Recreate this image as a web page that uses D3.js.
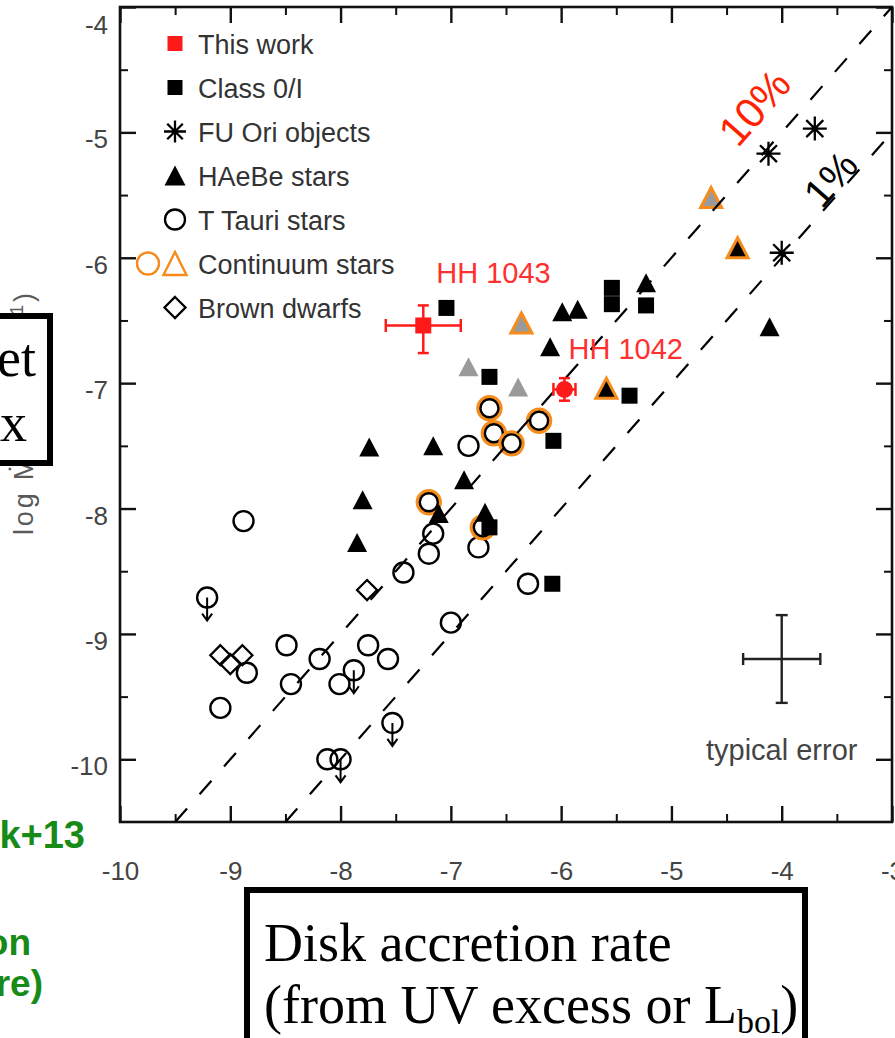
<!DOCTYPE html>
<html><head><meta charset="utf-8">
<script src="https://cdn.jsdelivr.net/npm/d3@7"></script>
<style>
html,body{margin:0;padding:0;background:#fff;overflow:hidden}
svg{display:block}
</style></head><body>
<svg id="chart" width="895" height="1038"></svg>
<script>
// ---------------- data ----------------
const xTicks = [-10, -9, -8, -7, -6, -5, -4, -3];
const xMinor = [-9.5, -8.5, -7.5, -6.5, -5.5, -4.5, -3.5];
const yTicks = [-10, -9, -8, -7, -6, -5, -4];
const yMinor = [-9.5, -8.5, -7.5, -6.5, -5.5, -4.5];

const legendLabels = ["This work", "Class 0/I", "FU Ori objects", "HAeBe stars",
  "T Tauri stars", "Continuum stars", "Brown dwarfs"];

// efficiency lines: log Mjet = log Macc + log(ratio)
const ratioLabels = ["10%", "1%"];
const ratioValues = [0.1, 0.01];

// This work (HH 1043, HH 1042)
const workNames = ["HH 1043", "HH 1042"];
const workAcc = [-7.25, -5.97];
const workJet = [-6.54, -7.05];
const workAccErr = [0.34, 0.10];
const workJetErrUp = [0.16, 0.09];
const workJetErrDown = [0.22, 0.09];

// Class 0/I sources
const classAcc = [-7.04, -6.65, -5.54, -5.54, -5.23, -5.38, -6.07, -6.65, -6.08];
const classJet = [-6.40, -6.95, -6.24, -6.37, -6.38, -7.10, -7.46, -8.15, -8.60];

// FU Ori objects
const fuoriAcc = [-4.12, -3.70, -4.00];
const fuoriJet = [-5.17, -4.97, -5.96];

// HAeBe stars (black)
const haebeAcc = [-7.74, -7.16, -7.80, -7.85, -7.11, -6.88, -6.69, -6.10, -5.99, -5.85, -5.23, -4.11];
const haebeJet = [-7.51, -7.50, -7.93, -8.27, -8.04, -7.77, -8.03, -6.71, -6.43, -6.41, -6.20, -6.55];
// HAeBe stars (grey)
const haebeGreyAcc = [-6.84, -6.39];
const haebeGreyJet = [-6.87, -7.03];

// T Tauri stars
const ttauAcc = [-9.21, -8.85, -9.09, -8.49, -8.45, -8.19, -8.01, -7.88, -7.75, -7.57, -7.53,
  -8.12, -8.00, -7.43, -7.20, -7.16, -7.00, -8.88, -6.84, -6.75, -6.30];
const ttauJet = [-8.71, -9.31, -9.59, -9.09, -9.40, -9.20, -9.40, -9.29, -9.09, -9.20, -9.71,
  -10.00, -10.00, -8.51, -8.36, -8.20, -8.91, -8.10, -7.50, -8.31, -8.60];
const ttauUpperLimit = [true, false, false, false, false, false, false, true, false, false, true,
  false, true, false, false, false, false, false, false, false, false];

// Continuum stars
const contCircAcc = [-7.20, -6.65, -6.61, -6.45, -6.20, -6.71];
const contCircJet = [-7.95, -7.20, -7.40, -7.48, -7.30, -8.15];
const contTriAcc = [-6.36, -4.64, -4.40, -5.59];
const contTriJet = [-6.52, -5.52, -5.92, -7.04];
const contTriFill = ["grey", "grey", "black", "black"];

// Brown dwarfs
const bdAcc = [-9.09, -9.00, -8.89, -7.76];
const bdJet = [-9.17, -9.24, -9.17, -8.65];

// typical error bar
const typAcc = -4.0, typJet = -9.2, typAccErr = 0.35, typJetErr = 0.35;

// ---------------- drawing ----------------
const ORANGE = "#f58c1c", RED = "#ff1a1a", GREY = "#9a9a9a";
const SANS = "'Liberation Sans', Arial, Helvetica, sans-serif";
const SERIF = "'Liberation Serif', 'Times New Roman', serif";
const fmt = d => String(d);   // plain hyphen-minus labels

const svg = d3.select("#chart");
const x = d3.scaleLinear().domain([-10, -3]).range([120, 892]);
const y = d3.scaleLinear().domain([-10.5, -4]).range([822, 7]);
const X0 = x.range()[0], X1 = x.range()[1], Y0 = y.range()[1], Y1 = y.range()[0];

// y-axis title (partly covered by the box on the left)
const yTitle = svg.append("text")
  .attr("transform", "translate(33,535) rotate(-90)")
  .attr("font-family", SANS).attr("font-size", 27).attr("fill", "#5a5a5a")
  .attr("textLength", 242).attr("lengthAdjust", "spacing");
yTitle.append("tspan").text("log \u1E40");
yTitle.append("tspan").attr("font-size", 18).attr("dy", 6).text("jet");
yTitle.append("tspan").attr("dy", -6).text(" (M");
yTitle.append("tspan").attr("font-size", 18).attr("dy", 6).text("\u2299");
yTitle.append("tspan").attr("dy", -6).text(" yr");
yTitle.append("tspan").attr("font-size", 18).attr("dy", -10).text("-1");
yTitle.append("tspan").attr("dy", 10).text(")");

// axes with inward ticks on all four sides
function styleAxis(g, width) {
  g.select(".domain").remove();
  g.selectAll(".tick line").attr("stroke", "#111").attr("stroke-width", width);
}
const gAxes = svg.append("g");
gAxes.append("g").attr("transform", `translate(0,${Y1})`)
  .call(d3.axisBottom(x).tickValues(xMinor).tickSize(-8).tickFormat(""))
  .call(g => styleAxis(g, 2));
gAxes.append("g").attr("transform", `translate(0,${Y0})`)
  .call(d3.axisTop(x).tickValues(xMinor).tickSize(-8).tickFormat(""))
  .call(g => styleAxis(g, 2));
const xBottom = gAxes.append("g").attr("transform", `translate(0,${Y1})`)
  .call(d3.axisBottom(x).tickValues(xTicks).tickSize(-16).tickPadding(0).tickFormat(fmt))
  .call(g => styleAxis(g, 2.4));
xBottom.selectAll("text").attr("y", 58).attr("dy", 0)
  .attr("font-family", SANS).attr("font-size", 26).attr("fill", "#444");
gAxes.append("g").attr("transform", `translate(0,${Y0})`)
  .call(d3.axisTop(x).tickValues(xTicks).tickSize(-16).tickFormat(""))
  .call(g => styleAxis(g, 2.4));

gAxes.append("g").attr("transform", `translate(${X0},0)`)
  .call(d3.axisLeft(y).tickValues(yMinor).tickSize(-8).tickFormat(""))
  .call(g => styleAxis(g, 2));
gAxes.append("g").attr("transform", `translate(${X1},0)`)
  .call(d3.axisRight(y).tickValues(yMinor).tickSize(-8).tickFormat(""))
  .call(g => styleAxis(g, 2));
const yLeft = gAxes.append("g").attr("transform", `translate(${X0},0)`)
  .call(d3.axisLeft(y).tickValues(yTicks).tickSize(-16).tickPadding(0).tickFormat(fmt))
  .call(g => styleAxis(g, 2.4));
yLeft.selectAll("text")
  .attr("x", -12).attr("dy", 0)
  .attr("y", d => Math.max(y(d) + 15.5, 33) - y(d))
  .attr("font-family", SANS).attr("font-size", 26).attr("fill", "#444");
gAxes.append("g").attr("transform", `translate(${X1},0)`)
  .call(d3.axisRight(y).tickValues(yTicks).tickSize(-16).tickFormat(""))
  .call(g => styleAxis(g, 2.4));

// frame
svg.append("rect").attr("x", X0).attr("y", Y0).attr("width", X1 - X0).attr("height", Y1 - Y0)
  .attr("fill", "none").attr("stroke", "#111").attr("stroke-width", 2.6);

// marker shapes
const triPath = (w, h) => `M0,${-h / 2}L${w / 2},${h / 2}L${-w / 2},${h / 2}Z`;
const diaPath = r => `M0,${-r}L${r},0L0,${r}L${-r},0Z`;
const starPath = r => {
  const d = r * Math.SQRT1_2;
  return `M0,${-r}V${r}M${-r},0H${r}M${-d},${-d}L${d},${d}M${-d},${d}L${d},${-d}`;
};

const gPts = svg.append("g");

// T Tauri stars
const tt = d3.range(ttauAcc.length);
gPts.selectAll(".tt").data(tt).join("circle")
  .attr("cx", i => x(ttauAcc[i])).attr("cy", i => y(ttauJet[i])).attr("r", 10)
  .attr("fill", "none").attr("stroke", "#000").attr("stroke-width", 2.4);
gPts.selectAll(".ul").data(tt.filter(i => ttauUpperLimit[i])).join("path")
  .attr("transform", i => `translate(${x(ttauAcc[i])},${y(ttauJet[i])})`)
  .attr("d", "M0,0V23M-5,16L0,23L5,16")
  .attr("fill", "none").attr("stroke", "#000").attr("stroke-width", 2);

// Brown dwarfs
gPts.selectAll(".bd").data(d3.range(bdAcc.length)).join("path")
  .attr("transform", i => `translate(${x(bdAcc[i])},${y(bdJet[i])})`)
  .attr("d", diaPath(10)).attr("fill", "none").attr("stroke", "#000").attr("stroke-width", 2.3);

// Continuum stars (circles)
const cc = gPts.selectAll(".cc").data(d3.range(contCircAcc.length)).join("g")
  .attr("transform", i => `translate(${x(contCircAcc[i])},${y(contCircJet[i])})`);
cc.append("circle").attr("r", 11.3).attr("fill", "none").attr("stroke", ORANGE).attr("stroke-width", 3.8);
cc.append("circle").attr("r", 9).attr("fill", "none").attr("stroke", "#000").attr("stroke-width", 2.4);

// Class 0/I
gPts.selectAll(".c0").data(d3.range(classAcc.length)).join("rect")
  .attr("x", i => x(classAcc[i]) - 8).attr("y", i => y(classJet[i]) - 8)
  .attr("width", 16).attr("height", 16).attr("fill", "#000");

// HAeBe stars
gPts.selectAll(".hg").data(d3.range(haebeGreyAcc.length)).join("path")
  .attr("transform", i => `translate(${x(haebeGreyAcc[i])},${y(haebeGreyJet[i])})`)
  .attr("d", triPath(20, 19)).attr("fill", GREY);
gPts.selectAll(".hb").data(d3.range(haebeAcc.length)).join("path")
  .attr("transform", i => `translate(${x(haebeAcc[i])},${y(haebeJet[i])})`)
  .attr("d", triPath(20, 19)).attr("fill", "#000");

// Continuum stars (triangles)
gPts.selectAll(".ct").data(d3.range(contTriAcc.length)).join("path")
  .attr("transform", i => `translate(${x(contTriAcc[i])},${y(contTriJet[i])})`)
  .attr("d", triPath(21, 20))
  .attr("fill", i => contTriFill[i] === "grey" ? GREY : "#000")
  .attr("stroke", ORANGE).attr("stroke-width", 3).attr("stroke-linejoin", "miter");

// FU Ori objects
gPts.selectAll(".fu").data(d3.range(fuoriAcc.length)).join("path")
  .attr("transform", i => `translate(${x(fuoriAcc[i])},${y(fuoriJet[i])})`)
  .attr("d", starPath(12)).attr("fill", "none").attr("stroke", "#000").attr("stroke-width", 2.3);

// efficiency lines
const gLines = svg.append("g");
ratioValues.forEach((r, k) => {
  const off = Math.log10(r);
  const xa = Math.max(-10, -10.5 - off), xb = Math.min(-3, -4 - off);
  gLines.append("line")
    .attr("x1", x(xa)).attr("y1", y(xa + off)).attr("x2", x(xb)).attr("y2", y(xb + off))
    .attr("stroke", "#000").attr("stroke-width", 2.2).attr("stroke-dasharray", "18 19");
});
const ang = Math.atan2(y(-4) - y(-5), x(-4) - x(-5)) * 180 / Math.PI;
const ratioPos = [[-4.25, -4.8], [-3.56, -5.37]];
const ratioSize = [42, 40];
ratioLabels.forEach((t, k) => {
  svg.append("text")
    .attr("transform", `translate(${x(ratioPos[k][0])},${y(ratioPos[k][1])}) rotate(${ang})`)
    .attr("text-anchor", "middle").attr("dy", "0.36em")
    .attr("font-family", SANS).attr("font-size", ratioSize[k])
    .attr("fill", k === 0 ? "#ff2200" : "#000").text(t);
});

// This work
const labelOff = [[13, -42], [4, -30]];
workNames.forEach((name, i) => {
  const cx = x(workAcc[i]), cy = y(workJet[i]);
  const g = svg.append("g").attr("stroke", RED).attr("stroke-width", 2.5);
  const xl = x(workAcc[i] - workAccErr[i]), xr = x(workAcc[i] + workAccErr[i]);
  const yt = y(workJet[i] + workJetErrUp[i]), yb = y(workJet[i] - workJetErrDown[i]);
  g.append("line").attr("x1", xl).attr("x2", xr).attr("y1", cy).attr("y2", cy);
  g.append("line").attr("x1", cx).attr("x2", cx).attr("y1", yt).attr("y2", yb);
  g.append("line").attr("x1", xl).attr("x2", xl).attr("y1", cy - 6.5).attr("y2", cy + 6.5);
  g.append("line").attr("x1", xr).attr("x2", xr).attr("y1", cy - 6.5).attr("y2", cy + 6.5);
  g.append("line").attr("x1", cx - 5.5).attr("x2", cx + 5.5).attr("y1", yt).attr("y2", yt);
  g.append("line").attr("x1", cx - 5.5).attr("x2", cx + 5.5).attr("y1", yb).attr("y2", yb);
  if (i === 0) {
    svg.append("rect").attr("x", cx - 8).attr("y", cy - 8).attr("width", 16).attr("height", 16).attr("fill", RED);
  } else {
    svg.append("circle").attr("cx", cx).attr("cy", cy).attr("r", 8.5).attr("fill", RED);
  }
  svg.append("text").attr("x", cx + labelOff[i][0]).attr("y", cy + labelOff[i][1])
    .attr("font-family", SANS).attr("font-size", 29).attr("fill", "#ff3030").text(name);
});

// typical error
{
  const cx = x(typAcc), cy = y(typJet);
  const xl = x(typAcc - typAccErr), xr = x(typAcc + typAccErr);
  const yt = y(typJet + typJetErr), yb = y(typJet - typJetErr);
  const g = svg.append("g").attr("stroke", "#222").attr("stroke-width", 2.4);
  g.append("line").attr("x1", xl).attr("x2", xr).attr("y1", cy).attr("y2", cy);
  g.append("line").attr("x1", cx).attr("x2", cx).attr("y1", yt).attr("y2", yb);
  g.append("line").attr("x1", xl).attr("x2", xl).attr("y1", cy - 6).attr("y2", cy + 6);
  g.append("line").attr("x1", xr).attr("x2", xr).attr("y1", cy - 6).attr("y2", cy + 6);
  g.append("line").attr("x1", cx - 6).attr("x2", cx + 6).attr("y1", yt).attr("y2", yt);
  g.append("line").attr("x1", cx - 6).attr("x2", cx + 6).attr("y1", yb).attr("y2", yb);
  svg.append("text").attr("x", cx).attr("y", cy + 101).attr("text-anchor", "middle")
    .attr("font-family", SANS).attr("font-size", 29).attr("fill", "#444").text("typical error");
}

// legend
const leg = svg.append("g");
const legX = 175, legY0 = 43.5, legStep = 44;
legendLabels.forEach((t, k) => {
  const cy = legY0 + k * legStep;
  leg.append("text").attr("x", 198).attr("y", cy + 10)
    .attr("font-family", SANS).attr("font-size", 27).attr("fill", "#333").text(t);
  const m = leg.append("g").attr("transform", `translate(${legX},${cy})`);
  if (k === 0) m.append("rect").attr("x", -7.5).attr("y", -7.5).attr("width", 15).attr("height", 15).attr("fill", RED);
  if (k === 1) m.append("rect").attr("x", -7.5).attr("y", -7.5).attr("width", 15).attr("height", 15).attr("fill", "#000");
  if (k === 2) m.append("path").attr("d", starPath(11)).attr("stroke", "#000").attr("stroke-width", 2.3).attr("fill", "none");
  if (k === 3) m.append("path").attr("d", triPath(21, 20)).attr("fill", "#000");
  if (k === 4) m.append("circle").attr("r", 10).attr("fill", "none").attr("stroke", "#000").attr("stroke-width", 2.3);
  if (k === 5) {
    m.append("circle").attr("cx", -27).attr("r", 11).attr("fill", "none").attr("stroke", ORANGE).attr("stroke-width", 2.4);
    m.append("path").attr("d", triPath(23, 23)).attr("fill", "none").attr("stroke", ORANGE).attr("stroke-width", 2.4);
  }
  if (k === 6) m.append("path").attr("d", diaPath(10.5)).attr("fill", "none").attr("stroke", "#000").attr("stroke-width", 2.3);
});

// slide boxes overlaid on the figure
svg.append("rect").attr("x", -20).attr("y", 316).attr("width", 70).attr("height", 147)
  .attr("fill", "#fff").attr("stroke", "#000").attr("stroke-width", 6);
svg.append("text").attr("x", 36).attr("y", 376).attr("text-anchor", "end")
  .attr("font-family", SERIF).attr("font-size", 54).attr("fill", "#000").text("et");
svg.append("text").attr("x", 27).attr("y", 441).attr("text-anchor", "end")
  .attr("font-family", SERIF).attr("font-size", 54).attr("fill", "#000").text("x");

svg.append("rect").attr("x", 247).attr("y", 890).attr("width", 558).attr("height", 170)
  .attr("fill", "#fff").attr("stroke", "#000").attr("stroke-width", 6);
svg.append("text").attr("x", 264).attr("y", 961)
  .attr("font-family", SERIF).attr("font-size", 54).attr("fill", "#000").text("Disk accretion rate");
const l2 = svg.append("text").attr("x", 264).attr("y", 1023)
  .attr("font-family", SERIF).attr("font-size", 54).attr("fill", "#000");
l2.append("tspan").text("(from UV excess or L");
l2.append("tspan").attr("font-size", 34).attr("dy", 10).text("bol");
l2.append("tspan").attr("dy", -10).text(")");

// green slide text at the left margin
const green = "#178a17";
[["k+13", 85, 848, 38], ["on", 31, 955, 37], ["re)", 43, 996, 37]].forEach(([t, tx, ty, fs]) => {
  svg.append("text").attr("x", tx).attr("y", ty).attr("text-anchor", "end")
    .attr("font-family", SANS).attr("font-weight", "bold").attr("font-size", fs)
    .attr("fill", green).text(t);
});
</script>
</body></html>
